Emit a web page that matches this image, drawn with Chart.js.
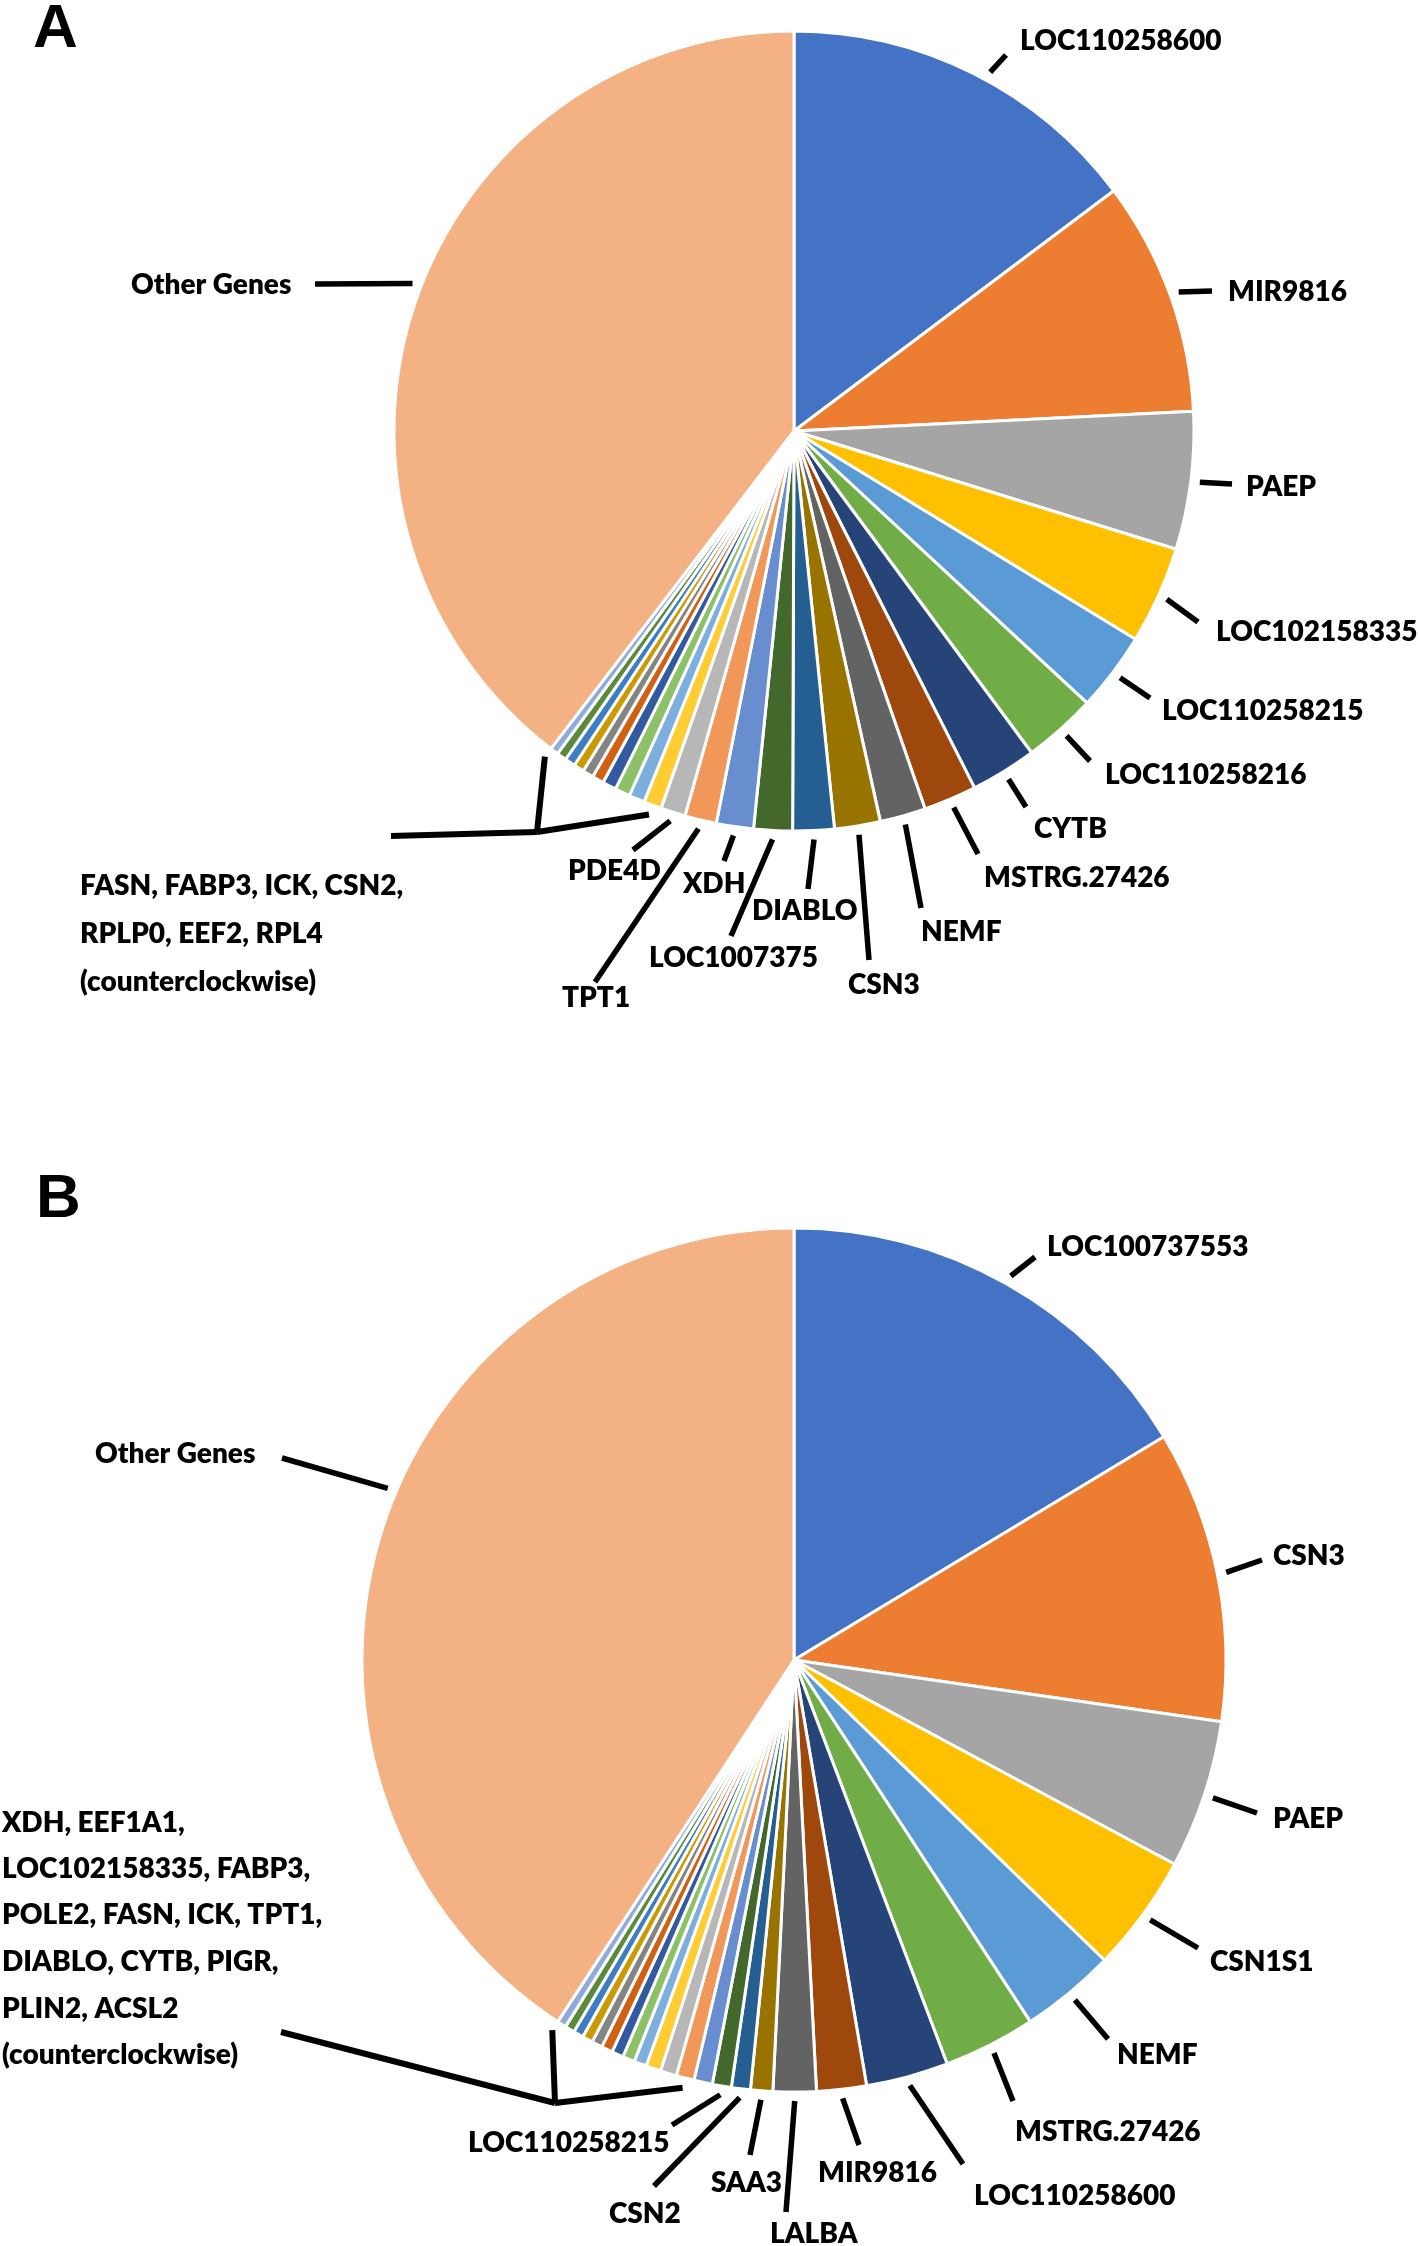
<!DOCTYPE html>
<html>
<head>
<meta charset="utf-8">
<script src="https://cdn.jsdelivr.net/npm/chart.js@4.4.0/dist/chart.umd.min.js"></script>
<style>
  html, body { margin: 0; padding: 0; background: #fff; }
  canvas { display: block; }
</style>
</head>
<body>
<canvas id="pieA" width="1418" height="1123"></canvas>
<canvas id="pieB" width="1418" height="1123"></canvas>
<script>
// gene shares (% of reads), clockwise from 12 o'clock
const genesA = ['LOC110258600', 'MIR9816', 'PAEP', 'LOC102158335', 'LOC110258215', 'LOC110258216',
  'CYTB', 'MSTRG.27426', 'NEMF', 'CSN3', 'DIABLO', 'LOC1007375', 'XDH', 'TPT1', 'PDE4D',
  '', '', '', 'RPL4', 'EEF2', 'RPLP0', 'CSN2', 'ICK', 'FABP3', 'FASN', 'Other Genes'];
const valuesA = [14.75, 9.47, 5.56, 3.94, 3.19, 2.97, 2.67, 2.14, 1.85, 1.85, 1.67, 1.56, 1.50, 1.28, 1.00,
  0.72, 0.64, 0.61, 0.56, 0.47, 0.44, 0.42, 0.42, 0.39, 0.33, 39.61];
const noteA = ['FASN, FABP3, ICK, CSN2,', 'RPLP0, EEF2, RPL4', '(counterclockwise)'];

const genesB = ['LOC100737553', 'CSN3', 'PAEP', 'CSN1S1', 'NEMF', 'MSTRG.27426', 'LOC110258600',
  'MIR9816', 'LALBA', 'SAA3', 'CSN2', 'LOC110258215', 'ACSL2', 'PLIN2', 'PIGR', 'CYTB', 'DIABLO',
  'TPT1', 'ICK', 'FASN', 'POLE2', 'FABP3', 'LOC102158335', 'EEF1A1', 'XDH', 'Other Genes'];
const valuesB = [16.36, 10.92, 5.56, 4.39, 3.56, 3.44, 3.08, 1.86, 1.61, 0.83, 0.71, 0.71,
  0.69, 0.67, 0.61, 0.56, 0.47, 0.45, 0.44, 0.42, 0.40, 0.39, 0.38, 0.36, 0.34, 40.79];
const noteB = ['XDH, EEF1A1,', 'LOC102158335, FABP3,', 'POLE2, FASN, ICK, TPT1,', 'DIABLO, CYTB, PIGR,',
  'PLIN2, ACSL2', '(counterclockwise)'];

// office default series colours
const palette = ['#4472C4', '#ED7D31', '#A5A5A5', '#FFC000', '#5B9BD5', '#70AD47', '#264478', '#9E480E',
  '#636363', '#997300', '#255E91', '#43682B', '#698ED0', '#F1975A', '#B7B7B7', '#FFCD33', '#7CAFDD',
  '#8CC168', '#335AA1', '#D26012', '#848484', '#CC9A00', '#3C7DC4', '#5A8A39', '#8FAADC', '#F4B183'];

// label placement (page pixels): line end + text left/middle
const layoutA = {
  offsetY: 0,
  letter: ['A', 33, 47],
  items: [
    {i: 0, at: 0.54, end: [1006, 55], t: [1020, 40]},
    {i: 1, end: [1212, 291], t: [1228, 291]},
    {i: 2, end: [1232, 484], t: [1246, 486]},
    {i: 3, end: [1198, 622], t: [1216, 631]},
    {i: 4, end: [1150, 698], t: [1162, 710]},
    {i: 5, end: [1090, 761], t: [1105, 774]},
    {i: 6, end: [1026, 807], t: [1034, 828]},
    {i: 7, end: [978, 854], t: [984, 877]},
    {i: 8, end: [921, 908], t: [921, 931]},
    {i: 9, end: [869, 960], t: [848, 984]},
    {i: 10, end: [808, 889], t: [752, 910]},
    {i: 11, end: [731, 936], t: [649, 957]},
    {i: 12, end: [724, 861], t: [683, 883]},
    {i: 13, end: [595, 982], t: [562, 997]},
    {i: 14, end: [633, 850], t: [568, 870]},
    {i: 25, at: 0.517, end: [315, 284], t: [131, 284]}
  ],
  bracket: {top: 25, right: 15, joint: [537, 832], left: [391, 836]},
  note: {lines: noteA, x: 80, ys: [885, 933, 981]}
};

const layoutB = {
  offsetY: 1123,
  letter: ['B', 36, 1217],
  items: [
    {i: 0, end: [1035, 1257], t: [1047, 1246]},
    {i: 1, end: [1262, 1560], t: [1273, 1555]},
    {i: 2, end: [1257, 1813], t: [1273, 1818]},
    {i: 3, end: [1198, 1948], t: [1210, 1961]},
    {i: 4, end: [1108, 2039], t: [1117, 2054]},
    {i: 5, end: [1013, 2101], t: [1015, 2131]},
    {i: 6, end: [963, 2164], t: [974, 2195]},
    {i: 7, end: [859, 2145], t: [818, 2172]},
    {i: 8, end: [786, 2212], t: [770, 2233]},
    {i: 9, end: [750, 2155], t: [711, 2182]},
    {i: 10, end: [654, 2186], t: [609, 2213]},
    {i: 11, end: [672, 2125], t: [468, 2142]},
    {i: 25, at: 0.543, end: [282, 1458], t: [95, 1453]}
  ],
  bracket: {top: 25, right: 13, joint: [555, 2103], left: [281, 2032]},
  note: {lines: noteB, x: 2, ys: [1822, 1868, 1914, 1961, 2008, 2054]}
};

// plugin closes over the raw layout object (no option resolution)
function leaderLabels(layout) {
  return {
    id: 'leaderLabels',
    afterDraw(chart) {
      const ctx = chart.ctx;
      const arcs = chart.getDatasetMeta(0).data;
      const names = chart.data.labels;
      const dy = layout.offsetY;
      const rim = (arc, frac, gap) => {
        const a = arc.startAngle + (arc.endAngle - arc.startAngle) * frac;
        const r = arc.outerRadius + gap;
        return [arc.x + Math.cos(a) * r, arc.y + Math.sin(a) * r];
      };
      const seg = (p, q) => {
        ctx.beginPath();
        ctx.moveTo(p[0], p[1]);
        ctx.lineTo(q[0], q[1]);
        ctx.stroke();
      };
      ctx.save();
      ctx.strokeStyle = '#000';
      ctx.fillStyle = '#000';
      ctx.lineWidth = 5.5;
      ctx.font = '800 28px Lato';
      ctx.textAlign = 'left';
      ctx.textBaseline = 'alphabetic';

      layout.items.forEach(it => {
        const frac = (typeof it.at === 'number') ? it.at : 0.5;
        const p = rim(arcs[it.i], frac, 9);
        seg(p, [it.end[0], it.end[1] - dy]);
        ctx.fillText(names[it.i], it.t[0], it.t[1] - dy + 10);
      });

      const b = layout.bracket;
      const joint = [b.joint[0], b.joint[1] - dy];
      ctx.lineWidth = 6;
      seg(rim(arcs[b.top], 0, 10), joint);
      seg(rim(arcs[b.right], 0.5, 10), joint);
      seg([b.left[0], b.left[1] - dy], joint);

      layout.note.lines.forEach((s, k) => ctx.fillText(s, layout.note.x, layout.note.ys[k] - dy + 10));

      ctx.font = 'bold 62px "Liberation Sans", Arial, sans-serif';
      ctx.fillText(layout.letter[0], layout.letter[1], layout.letter[2] - dy);
      ctx.restore();
    }
  };
}

function makePie(id, genes, values, layout, pad) {
  return new Chart(document.getElementById(id), {
    type: 'pie',
    data: {
      labels: genes,
      datasets: [{
        data: values,
        backgroundColor: palette,
        borderColor: '#ffffff',
        borderWidth: 3,
        hoverBorderWidth: 3,
        hoverOffset: 0
      }]
    },
    options: {
      responsive: false,
      animation: false,
      events: [],
      layout: {padding: pad},
      plugins: {
        legend: {display: false},
        tooltip: {enabled: false}
      }
    },
    plugins: [leaderLabels(layout)]
  });
}

makePie('pieA', genesA, valuesA, layoutA, {left: 392.5, top: 29.5, right: 222.5, bottom: 290.5});
makePie('pieB', genesB, valuesB, layoutB, {left: 360.5, top: 103.5, right: 190.5, bottom: 152.5});
</script>
</body>
</html>
